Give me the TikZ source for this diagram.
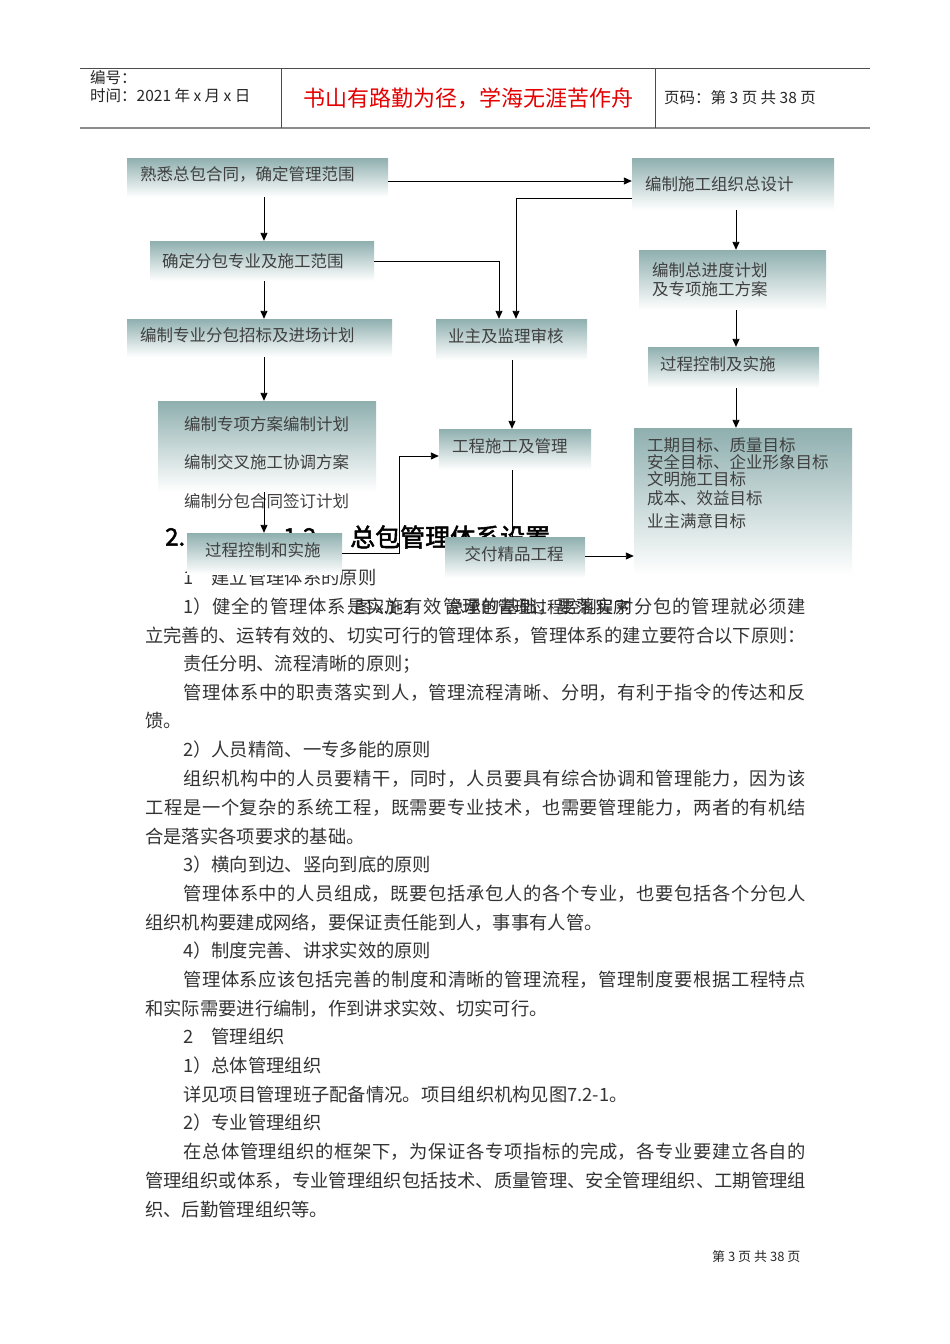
\documentclass[tikz,border=0pt]{standalone}
\usepackage{fontspec}
\usepackage{xcolor}
\usepackage{tikz}
\usetikzlibrary{arrows.meta}
\setmainfont{Noto Sans CJK SC}
\newfontfamily\headfont{Noto Sans CJK SC}[FakeBold=2]
\XeTeXlinebreaklocale "zh"
\XeTeXlinebreakskip=0pt plus 2pt
\definecolor{boxteal}{RGB}{143,175,175}
\definecolor{mottored}{RGB}{228,0,0}
\newcommand\diagfont{\fontsize{16.5}{17}\selectfont}
\newcommand\bodyfont{\fontsize{18.3}{28.7}\selectfont}
\newcommand\fillpar[1]{\parfillskip=0pt\relax #1\par}

\begin{document}
\begin{tikzpicture}[x=1pt, y=-1pt,
    box/.style={top color=boxteal, bottom color=white, inner xsep=13pt, inner ysep=0pt, align=left, font=\diagfont, text=black!75},
    one_line/.style={text height=12.5pt, text depth=6pt},
    box_text/.style={inner sep=0pt, align=left, font=\diagfont, text=black!75, anchor=base west},
    body_line/.style={inner sep=0pt, anchor=base west, font=\bodyfont, text=black!80},
    full_line/.style={body_line, text width=623pt, align=justify},
    wide_line/.style={body_line, text width=661pt, align=justify},
    head_text/.style={inner sep=0pt, anchor=west, text=black!85},
    arrow_line/.style={draw=black, line width=0.9pt, -{Triangle[length=8pt, width=7pt]}},
    plain_line/.style={draw=black, line width=0.9pt},
    rule_line/.style={draw=black!70, line width=0.8pt}
]
    \useasboundingbox (0,0) rectangle (950,1344);
    \fill [white] (0,0) rectangle (950,1344);

    % Page header
    \draw [rule_line] (80,68) -- (870,68);
    \draw [draw=black!45, line width=2pt] (80,128) -- (870,128);
    \draw [rule_line] (281,68) -- (281,128);
    \draw [rule_line] (655,68) -- (655,128);
    \node (doc_no) [head_text, font=\fontsize{15.5}{16}\selectfont] at (90,78) {编号：};
    \node (doc_date) [head_text, font=\fontsize{15.5}{16}\selectfont] at (90,96) {时间：2021 年 x 月 x 日};
    \node (motto) [inner sep=0pt, text=mottored, font=\fontsize{22}{22}\selectfont] at (468,98) {书山有路勤为径，学海无涯苦作舟};
    \node (page_no) [head_text, font=\fontsize{15.5}{16}\selectfont] at (664,98) {页码：第 3 页 共 38 页};

    % Section heading (partly hidden by the boxes)
    \node (sec_num) [head_text, text=black, font=\headfont\fontsize{24}{24}\selectfont] at (165,537) {2.};
    \node (sec_sub) [head_text, text=black, font=\headfont\fontsize{24}{24}\selectfont] at (283,537) {1.2};
    \node (sec_title) [head_text, text=black, font=\headfont\fontsize{25}{25}\selectfont] at (350,537) {总包管理体系设置};

    % Body text
    \node (l1) [body_line] at (183,584) {1\quad 建立管理体系的原则};
    \node (l2) [full_line] at (183,613) {\fillpar{1）健全的管理体系是实施有效管理的基础，要落实对分包的管理就必须建}};
    \node (l3) [wide_line] at (145,642) {\fillpar{立完善的、运转有效的、切实可行的管理体系，管理体系的建立要符合以下原则：}};
    \node (l4) [body_line] at (183,670) {责任分明、流程清晰的原则；};
    \node (l5) [full_line] at (183,699) {\fillpar{管理体系中的职责落实到人，管理流程清晰、分明，有利于指令的传达和反}};
    \node (l6) [body_line] at (145,727) {馈。};
    \node (l7) [body_line] at (183,756) {2）人员精简、一专多能的原则};
    \node (l8) [full_line] at (183,785) {\fillpar{组织机构中的人员要精干，同时，人员要具有综合协调和管理能力，因为该}};
    \node (l9) [wide_line] at (145,814) {\fillpar{工程是一个复杂的系统工程，既需要专业技术，也需要管理能力，两者的有机结}};
    \node (l10) [body_line] at (145,843) {合是落实各项要求的基础。};
    \node (l11) [body_line] at (183,871) {3）横向到边、竖向到底的原则};
    \node (l12) [full_line] at (183,900) {\fillpar{管理体系中的人员组成，既要包括承包人的各个专业，也要包括各个分包人}};
    \node (l13) [body_line] at (145,929) {组织机构要建成网络，要保证责任能到人，事事有人管。};
    \node (l14) [body_line] at (183,957) {4）制度完善、讲求实效的原则};
    \node (l15) [full_line] at (183,986) {\fillpar{管理体系应该包括完善的制度和清晰的管理流程，管理制度要根据工程特点}};
    \node (l16) [body_line] at (145,1015) {和实际需要进行编制，作到讲求实效、切实可行。};
    \node (l17) [body_line] at (183,1043) {2\quad 管理组织};
    \node (l18) [body_line] at (183,1072) {1）总体管理组织};
    \node (l19) [body_line] at (183,1101) {详见项目管理班子配备情况。项目组织机构见图7.2-1。};
    \node (l20) [body_line] at (183,1129) {2）专业管理组织};
    \node (l21) [full_line] at (183,1158) {\fillpar{在总体管理组织的框架下，为保证各专项指标的完成，各专业要建立各自的}};
    \node (l22) [wide_line] at (145,1187) {\fillpar{管理组织或体系，专业管理组织包括技术、质量管理、安全管理组织、工期管理组}};
    \node (l23) [body_line] at (145,1216) {织、后勤管理组织等。};

    % Figure caption
    \node (caption) [head_text, font=\fontsize{16.5}{17}\selectfont] at (355,607) {图 x.1-2\hspace*{36pt}总承包管理过程控制程序};

    % Left column
    \node (box1) [box, one_line, text width=235pt, minimum height=39pt] at (257.5,177.5) {熟悉总包合同，确定管理范围};
    \node (box2) [box, inner xsep=12pt, text width=200pt, minimum height=40pt] at (262,261) {确定分包专业及施工范围};
    \node (box3) [box, one_line, text width=239pt, minimum height=38pt] at (259.5,338) {编制专业分包招标及进场计划};
    \node (box4) [box, minimum width=218pt, minimum height=91pt] at (267,446.5) {};
    \node (box4_text) [box_text, text width=190pt, font=\fontsize{16.5}{38.5}\selectfont] at (184,430.3) {编制专项方案编制计划\\编制交叉施工协调方案\\编制分包合同签订计划};
    \node (box5) [box, one_line, inner xsep=18pt, text width=119pt, minimum height=41pt] at (264.5,553.5) {过程控制和实施};

    % Middle column
    \node (box6) [box, one_line, inner xsep=12pt, text width=127pt, minimum height=41pt] at (511.5,339.5) {业主及监理审核};
    \node (box7) [box, one_line, text width=126pt, minimum height=41pt] at (515,449.5) {工程施工及管理};
    \node (box8) [box, one_line, inner xsep=19.5pt, text width=101pt, minimum height=41pt] at (515,557.5) {交付精品工程};

    % Right column
    \node (box9) [box, text width=176pt, minimum height=52pt] at (733,184) {编制施工组织总设计};
    \node (box10) [box, text width=161pt, minimum height=60pt, font=\fontsize{16.5}{19}\selectfont] at (732.5,280) {编制总进度计划\\及专项施工方案};
    \node (box11) [box, one_line, inner xsep=12pt, text width=147pt, minimum height=41pt] at (733.5,367.5) {过程控制及实施};
    \node (box12) [box, minimum width=218pt, minimum height=147pt] at (743,501.5) {};
    \node (goal_text) [box_text, text width=200pt] at (647,451.3) {工期目标、质量目标\\安全目标、企业形象目标\\文明施工目标\\[2pt]成本、效益目标\\[6pt]业主满意目标};

    % Lanes for the vertical links
    \coordinate (left_lane) at (264,0);
    \coordinate (mid_lane) at (512,0);
    \coordinate (right_lane) at (736,0);
    \coordinate (top_row) at (0,181);

    % Links
    \draw [arrow_line] (box1.south -| left_lane) -- (box2.north -| left_lane);
    \draw [arrow_line] (box2.south -| left_lane) -- (box3.north -| left_lane);
    \draw [arrow_line] (box3.south -| left_lane) -- (box4.north -| left_lane);
    \draw [arrow_line] (box4.south -| left_lane) -- (box5.north -| left_lane);
    \draw [arrow_line] (box1.east |- top_row) -- (box9.west |- top_row);
    \draw [arrow_line] ([yshift=-14pt]box9.west) -| ([xshift=4.5pt]box6.north);
    \draw [arrow_line] (box2.east) -| ([xshift=-12.5pt]box6.north);
    \draw [arrow_line] (box6.south -| mid_lane) -- (box7.north -| mid_lane);
    \draw [plain_line] (box7.south -| mid_lane) -- (box8.north -| mid_lane);
    \draw [arrow_line] ([yshift=0.5pt]box5.east) -- ++(57,0) |- ([yshift=-6.5pt]box7.west);
    \draw [arrow_line] ([yshift=1.5pt]box8.east) -- ([yshift=1.5pt]box8.east -| box12.west);
    \draw [arrow_line] (box9.south -| right_lane) -- (box10.north -| right_lane);
    \draw [arrow_line] (box10.south -| right_lane) -- (box11.north -| right_lane);
    \draw [arrow_line] (box11.south -| right_lane) -- (box12.north -| right_lane);

    % Page footer
    \node (footer) [head_text, font=\fontsize{13}{13}\selectfont] at (712,1257) {第 3 页 共 38 页};
\end{tikzpicture}
\end{document}
